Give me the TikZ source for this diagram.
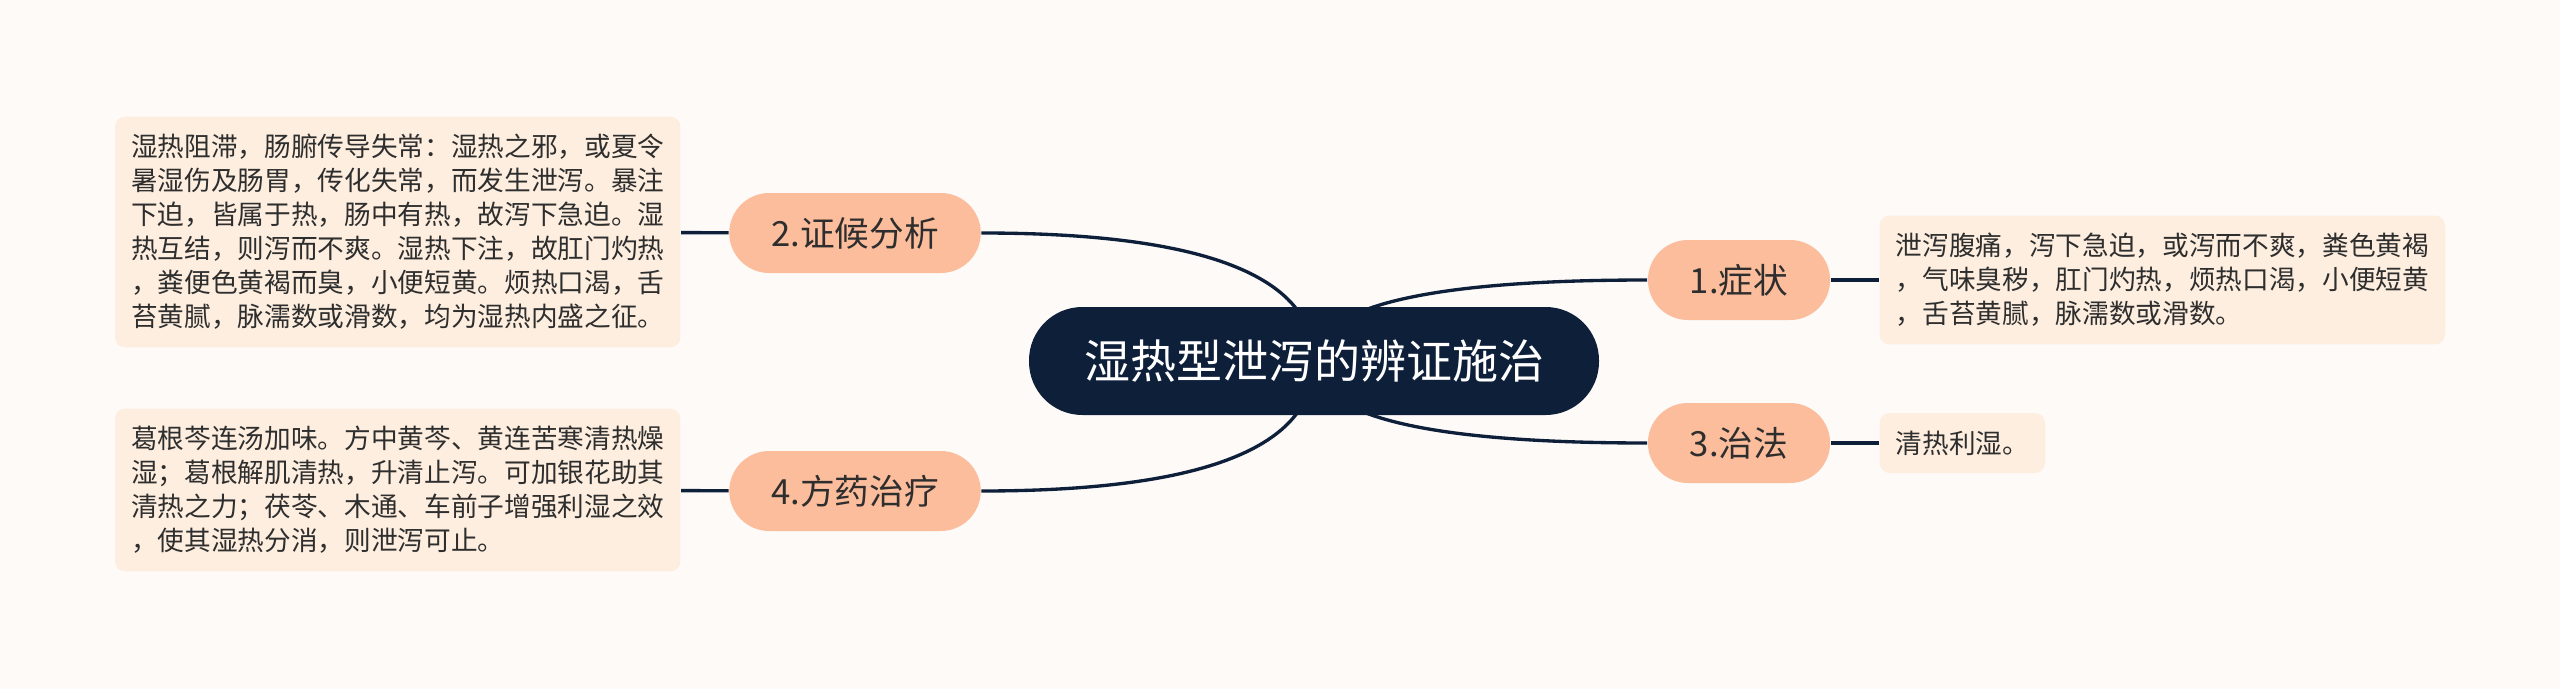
\documentclass[tikz,border=0pt]{standalone}
\usepackage{fontspec}
\newfontfamily\cjk{Noto Sans CJK SC}
\usetikzlibrary{calc}
\definecolor{pagebg}{HTML}{FDFAF8}
\definecolor{rootblue}{HTML}{0E1F3A}
\definecolor{peach}{HTML}{FBBD9B}
\definecolor{cream}{HTML}{FDEEDF}
\definecolor{inkgrey}{HTML}{2E2E2E}
\pgfdeclarelayer{paper}
\pgfdeclarelayer{edges}
\pgfsetlayers{paper,edges,main}

\begin{document}
\begin{tikzpicture}[x=0.3pt,y=0.3pt,yscale=-1,
  rootnode/.style={fill=rootblue,text=white,rounded corners=16pt,minimum height=32.4pt,inner xsep=16.5pt,font=\cjk\fontsize{13.8pt}{16pt}\selectfont},
  topic/.style={fill=peach,rounded corners=12pt,minimum height=24pt,inner xsep=12.6pt,text=inkgrey,font=\cjk\fontsize{10.4pt}{12pt}\selectfont},
  detail/.style={fill=cream,rounded corners=3pt,inner xsep=4.8pt,inner ysep=5.3pt,align=left,text=inkgrey,font=\cjk\fontsize{8pt}{10.2pt}\selectfont},
  branch/.style={draw=rootblue,line width=1pt}]
  \useasboundingbox (0,0) rectangle (2560,689);
  %paper
  \begin{pgfonlayer}{paper}
    \fill[pagebg] (0,0) rectangle (2560,689);
  \end{pgfonlayer}
  %Centre topic
  \node[rootnode] (root) at (1314,361) {湿热型泄泻的辨证施治};
  %Main topics
  \node[topic] (sym) at (1739,280) {1.症状};
  \node[topic] (cure) at (1739,443) {3.治法};
  \node[topic] (anal) at (855,233) {2.证候分析};
  \node[topic] (pres) at (855,491) {4.方药治疗};
  %Details
  \node[detail,anchor=west] (symtxt) at (1879,280) {泄泻腹痛，泻下急迫，或泻而不爽，粪色黄褐\\，气味臭秽，肛门灼热，烦热口渴，小便短黄\\，舌苔黄腻，脉濡数或滑数。};
  \node[detail,anchor=west] (curetxt) at (1879,443) {清热利湿。};
  \node[detail,anchor=east] (analtxt) at (681,232) {湿热阻滞，肠腑传导失常：湿热之邪，或夏令\\暑湿伤及肠胃，传化失常，而发生泄泻。暴注\\下迫，皆属于热，肠中有热，故泻下急迫。湿\\热互结，则泻而不爽。湿热下注，故肛门灼热\\，粪便色黄褐而臭，小便短黄。烦热口渴，舌\\苔黄腻，脉濡数或滑数，均为湿热内盛之征。};
  \node[detail,anchor=east] (prestxt) at (681,490) {葛根芩连汤加味。方中黄芩、黄连苦寒清热燥\\湿；葛根解肌清热，升清止泻。可加银花助其\\清热之力；茯苓、木通、车前子增强利湿之效\\，使其湿热分消，则泄泻可止。};
  %Curved branches under the centre topic
  \begin{pgfonlayer}{edges}
    \foreach \t/\a in {sym/west,cure/west,anal/east,pres/east}{
      \coordinate (bend) at (root.center |- \t.\a);
      \draw[branch] (root.center) .. controls ($(root.center)!0.667!(bend)$) and ($(\t.\a)!0.667!(bend)$) .. (\t.\a);
    }
  \end{pgfonlayer}
  %Short links to details
  \draw[branch] (sym) -- (symtxt);
  \draw[branch] (cure) -- (curetxt);
  \draw[branch] (anal) -- (analtxt);
  \draw[branch] (pres) -- (prestxt);
\end{tikzpicture}
\end{document}
